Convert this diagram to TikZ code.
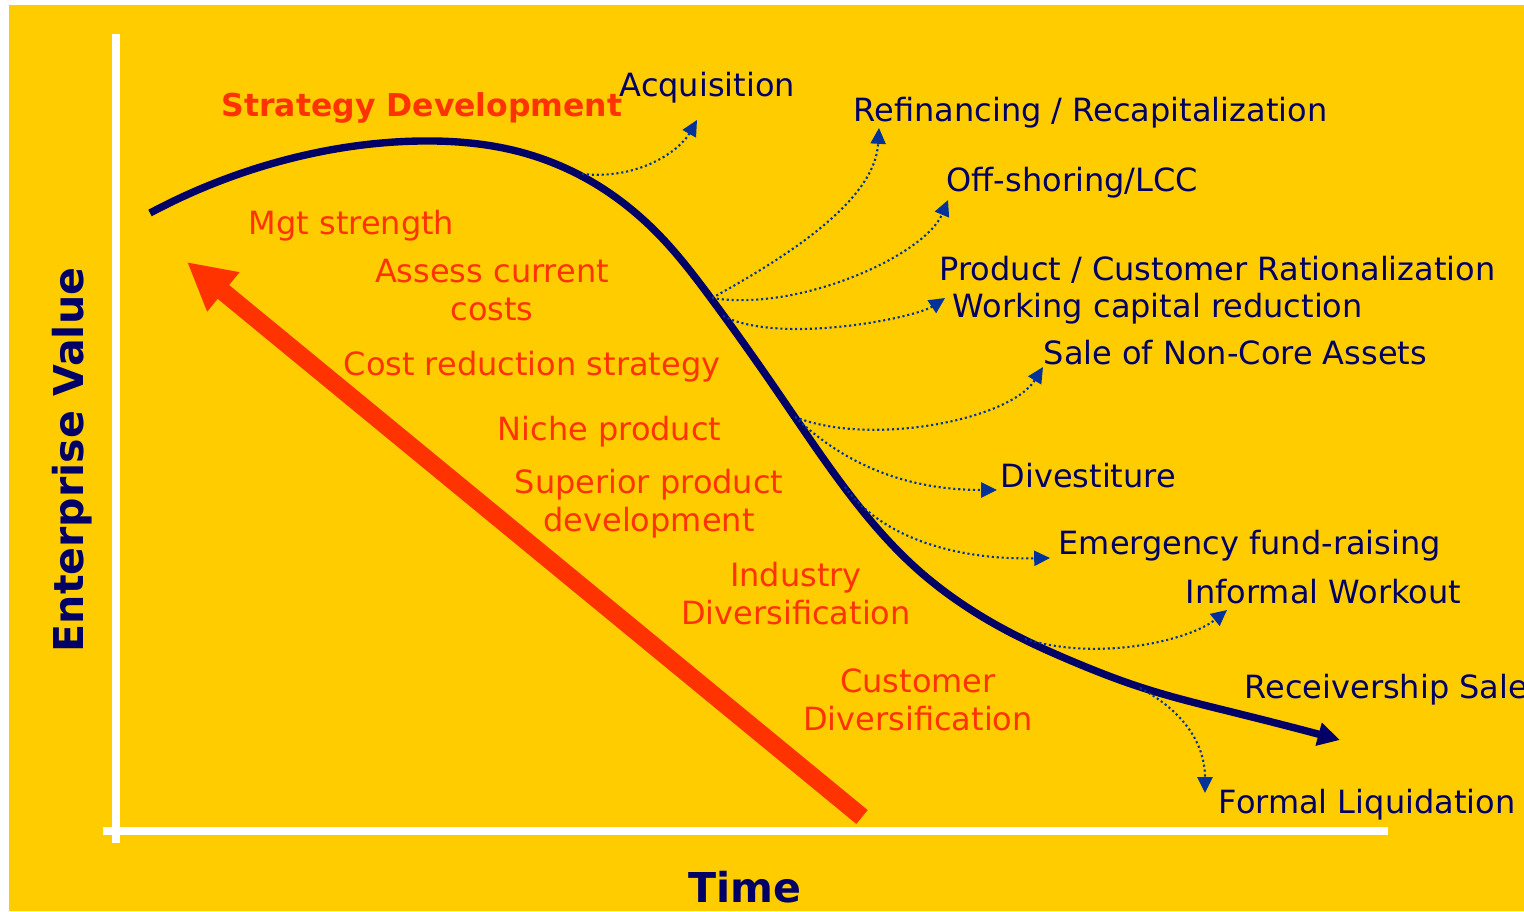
\documentclass[tikz,border=0pt]{standalone}
\usepackage{fontspec}
\setmainfont{DejaVu Sans}
\usepackage{xcolor}
\usetikzlibrary{arrows.meta,hobby}

\definecolor{gold}{HTML}{FFCC00}
\definecolor{navy}{HTML}{000066}
\definecolor{redorange}{HTML}{FF3300}
\definecolor{linkblue}{HTML}{003399}

\begin{document}
\begin{tikzpicture}[x=0.01cm, y=-0.01cm,
    move/.style={text=navy, font=\fontsize{9.1}{10.8}\selectfont, inner sep=0pt, anchor=base west},
    lever/.style={text=redorange, font=\fontsize{9.1}{10.8}\selectfont, inner sep=0pt, align=center},
    axislabel/.style={text=navy, font=\fontsize{11.7}{14}\selectfont\bfseries, inner sep=0pt, anchor=base},
    link/.style={draw=linkblue, line width=0.6pt, dash pattern=on 0.6pt off 0.8pt, -{Triangle[length=4.5pt,width=4.3pt]}}]

    % Background
    \useasboundingbox (0,0) rectangle (1524,911);
    \fill[white] (0,0) rectangle (1524,911);
    \fill[gold] (9,5) rectangle (1524,911);

    % Draw axes
    \draw[white, line width=2.3pt] (116,34) -- (116,843);
    \draw[white, line width=2.3pt] (103,831) -- (1388,831);
    \node[axislabel, rotate=90] (value) at (83,460) {Enterprise Value};
    \node[axislabel] (time) at (745,902) {Time};

    % Turnaround levers (left of the curve)
    \draw[redorange, line width=5.1pt, -{Triangle[length=13.4pt,width=13.5pt]}] (862,817) -- (187,262);
    \node[lever, anchor=base west, font=\fontsize{8.95}{10.8}\selectfont\bfseries] (strategy) at (221,116) {Strategy Development};
    \node[lever, anchor=base west] (mgt) at (248,234) {Mgt strength};
    \node[lever, anchor=base] (assess) at (492,320) {Assess current\\costs};
    \node[lever, anchor=base west] (costred) at (343,375) {Cost reduction strategy};
    \node[lever, anchor=base west] (niche) at (497,440) {Niche product};
    \node[lever, anchor=base] (superior) at (649,531) {Superior product\\development};
    \node[lever, anchor=base] (industry) at (796,624) {Industry\\Diversification};
    \node[lever, anchor=base] (customer) at (918,730) {Customer\\Diversification};

    % Enterprise value curve
    \draw[navy, line width=2.1pt, -{Triangle[length=6.3pt,width=6.4pt]}, use Hobby shortcut]
        (150,213) .. (285,160) .. (420,141) .. (524,153) .. (602,188) .. (662,238)
        .. (710,297) .. (779,394) .. (844,487) .. (917,569) .. (1000,627)
        .. (1074,662) .. (1140,687) .. (1240,714) .. (1340,740);

    % Points on the curve
    \coordinate (onA) at (582,174);
    \coordinate (onB) at (712,298);
    \coordinate (onC) at (723,316);
    \coordinate (onD) at (795,417);
    \coordinate (onE) at (845,487);
    \coordinate (onF) at (1025,639);
    \coordinate (onG) at (1140,688);

    % Options (right of the curve)
    \node[move] (acq) at (619,96) {Acquisition};
    \node[move] (refi) at (853,121) {Refinancing / Recapitalization};
    \node[move] (offsh) at (946,191) {Off-shoring/LCC};
    \node[move] (prod) at (939,280) {Product / Customer Rationalization};
    \node[move] (wcap) at (952,317) {Working capital reduction};
    \node[move] (sale) at (1043,364) {Sale of Non-Core Assets};
    \node[move] (divest) at (1000,487) {Divestiture};
    \node[move] (emerg) at (1058,554) {Emergency fund-raising};
    \node[move] (informal) at (1185,603) {Informal Workout};
    \node[move] (receiv) at (1244,698) {Receivership Sale};
    \node[move] (formal) at (1218,813) {Formal Liquidation};

    % Dotted links
    \draw[link] (onA) .. controls (640,180) and (680,150) .. ([shift={(78,24)}]acq.base west);
    \draw[link] (onB) .. controls (790,255) and (875,200) .. ([shift={(26,7)}]refi.base west);
    \draw[link] (onB) .. controls (800,312) and (925,255) .. ([shift={(2,9)}]offsh.base west);
    \draw[link] (onC) .. controls (780,345) and (915,318) .. ([shift={(-7,-19)}]wcap.base west);
    \draw[link] (onD) .. controls (870,447) and (1010,420) .. ([shift={(0,3)}]sale.base west);
    \draw[link] (onD) .. controls (840,460) and (900,490) .. ([shift={(-3,3)}]divest.base west);
    \draw[link] (onE) .. controls (880,535) and (950,560) .. ([shift={(-8,4)}]emerg.base west);
    \draw[link] (onF) .. controls (1100,662) and (1190,640) .. ([shift={(42,7)}]informal.base west);
    \draw[link] (onG) .. controls (1185,712) and (1205,745) .. ([shift={(-13,-20)}]formal.base west);
\end{tikzpicture}
\end{document}
